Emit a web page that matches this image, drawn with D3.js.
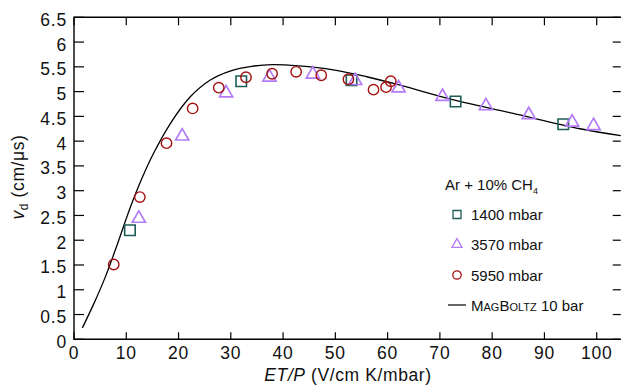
<!DOCTYPE html>
<html>
<head>
<meta charset="utf-8">
<script src="https://cdn.jsdelivr.net/npm/d3@7"></script>
<style>
  body { margin: 0; background: #fff; }
  svg { display: block; font-family: "Liberation Sans", Arial, sans-serif; }
</style>
</head>
<body>
<svg id="chart"></svg>
<script>
// ET/P (V/cm K/mbar) vs drift velocity (cm/us), Ar + 10% CH4
const p1400 = [[10.7, 2.2], [32.0, 5.21], [53.1, 5.23], [73.0, 4.80], [93.6, 4.34]];
const p3570 = [[12.4, 2.44], [20.7, 4.10], [29.1, 4.97], [37.4, 5.29], [45.7, 5.35], [53.8, 5.22],
  [62.1, 5.07], [70.5, 4.90], [78.8, 4.71], [87.0, 4.53], [95.3, 4.38], [99.4, 4.31]];
const p5950 = [[7.6, 1.51], [12.6, 2.87], [17.7, 3.96], [22.7, 4.66], [27.7, 5.08], [32.9, 5.29],
  [37.9, 5.36], [42.5, 5.40], [47.3, 5.33], [52.5, 5.25], [57.3, 5.04], [59.7, 5.09], [60.6, 5.21]];
const magboltz = [[1.6, 0.23], [3.8, 0.72], [6.0, 1.26], [8.3, 1.92], [10.8, 2.67], [13.0, 3.25],
  [15.2, 3.75], [18.4, 4.35], [22.2, 4.89], [26.0, 5.23], [30.0, 5.42], [34.0, 5.51], [38.0, 5.545],
  [43.0, 5.52], [49.6, 5.44], [56.0, 5.30], [61.7, 5.15], [71.3, 4.87], [84.0, 4.56], [96.8, 4.25], [104.6, 4.11]];
const xTicks = [0, 10, 20, 30, 40, 50, 60, 70, 80, 90, 100];
const yTicks = [0, 0.5, 1, 1.5, 2, 2.5, 3, 3.5, 4, 4.5, 5, 5.5, 6, 6.5];

const width = 621, height = 389;
const plotLeft = 74, plotTop = 17.3, plotBottom = 339.3;

const svg = d3.select('#chart')
  .attr('width', width)
  .attr('height', height);

const x = d3.scaleLinear().domain([0, 104.6]).range([plotLeft, plotLeft + 104.6 * 5.227]);
const y = d3.scaleLinear().domain([0, 6.5]).range([plotBottom, plotTop]);
const plotRight = x(104.6);

const c1400 = '#1d5c57', c3570 = '#b47cf7', c5950 = '#a3100f';

// frame
svg.append('path')
  .attr('d', `M${plotRight},${plotTop}H${plotLeft}V${plotBottom}H${plotRight}`)
  .attr('fill', 'none')
  .attr('stroke', '#000')
  .attr('stroke-width', 1.4);

// ticks (inward)
const tk = svg.append('g').attr('stroke', '#000').attr('stroke-width', 1.2);
xTicks.forEach(v => {
  tk.append('line').attr('x1', x(v)).attr('x2', x(v)).attr('y1', plotBottom).attr('y2', plotBottom - 7);
  tk.append('line').attr('x1', x(v)).attr('x2', x(v)).attr('y1', plotTop).attr('y2', plotTop + 8);
});
yTicks.forEach(v => {
  tk.append('line').attr('x1', plotLeft).attr('x2', plotLeft + 10).attr('y1', y(v)).attr('y2', y(v));
  tk.append('line').attr('x1', plotRight).attr('x2', plotRight - 8).attr('y1', y(v)).attr('y2', y(v));
});

// tick labels
svg.append('g').selectAll('text')
  .data(xTicks)
  .join('text')
  .attr('x', d => x(d))
  .attr('y', 359)
  .attr('text-anchor', 'middle')
  .attr('font-size', 17.5)
  .attr('letter-spacing', 0.8)
  .attr('fill', '#111')
  .text(d => d);

svg.append('g').selectAll('text')
  .data(yTicks)
  .join('text')
  .attr('x', 67)
  .attr('y', d => y(d) + 8.5)
  .attr('text-anchor', 'end')
  .attr('font-size', 17.5)
  .attr('letter-spacing', 0.8)
  .attr('fill', '#111')
  .text(d => d);

// axis titles
const xt = svg.append('text')
  .attr('x', 348)
  .attr('y', 381)
  .attr('text-anchor', 'middle')
  .attr('font-size', 17.5)
  .attr('letter-spacing', 0.6)
  .attr('fill', '#111');
xt.append('tspan').attr('font-style', 'italic').text('ET/P');
xt.append('tspan').text(' (V/cm K/mbar)');

const yt = svg.append('text')
  .attr('transform', 'translate(24,177) rotate(-90)')
  .attr('text-anchor', 'middle')
  .attr('font-size', 17.5)
  .attr('letter-spacing', 0.6)
  .attr('fill', '#111');
yt.append('tspan').attr('font-style', 'italic').text('v');
yt.append('tspan').attr('font-size', 12).attr('dy', 4).text('d');
yt.append('tspan').attr('dy', -4).text(' (cm/μs)');

// MagBoltz curve
const line = d3.line()
  .x(d => x(d[0]))
  .y(d => y(d[1]))
  .curve(d3.curveCatmullRom);

svg.append('path')
  .datum(magboltz)
  .attr('d', line)
  .attr('fill', 'none')
  .attr('stroke', '#000')
  .attr('stroke-width', 1.3);

// markers
const sq = d3.symbol().type(d3.symbolSquare).size(110);
const tri = d3.symbol().type(d3.symbolTriangle).size(75);

svg.append('g').selectAll('path')
  .data(p1400)
  .join('path')
  .attr('transform', d => `translate(${x(d[0])},${y(d[1])})`)
  .attr('d', sq)
  .attr('fill', 'none')
  .attr('stroke', c1400)
  .attr('stroke-width', 1.6);

svg.append('g').selectAll('path')
  .data(p3570)
  .join('path')
  .attr('transform', d => `translate(${x(d[0])},${y(d[1])})`)
  .attr('d', tri)
  .attr('fill', 'none')
  .attr('stroke', c3570)
  .attr('stroke-width', 1.7);

svg.append('g').selectAll('circle')
  .data(p5950)
  .join('circle')
  .attr('cx', d => x(d[0]))
  .attr('cy', d => y(d[1]))
  .attr('r', 5.2)
  .attr('fill', 'none')
  .attr('stroke', c5950)
  .attr('stroke-width', 1.4);

// legend
const lg = svg.append('g').attr('font-size', 15).attr('fill', '#111');
const lt = lg.append('text').attr('x', 445).attr('y', 190);
lt.append('tspan').text('Ar + 10% CH');
lt.append('tspan').attr('font-size', 9).attr('dy', 4).text('4');

const legendItems = [
  {label: '1400 mbar', color: c1400, shape: 'square', cy: 214.5},
  {label: '3570 mbar', color: c3570, shape: 'triangle', cy: 244.5},
  {label: '5950 mbar', color: c5950, shape: 'circle', cy: 275}
];
legendItems.forEach(it => {
  if (it.shape === 'circle') {
    lg.append('circle').attr('cx', 457).attr('cy', it.cy).attr('r', 4.2)
      .attr('fill', 'none').attr('stroke', it.color).attr('stroke-width', 1.3);
  } else {
    const s = it.shape === 'square' ? d3.symbol().type(d3.symbolSquare).size(64)
      : d3.symbol().type(d3.symbolTriangle).size(45);
    lg.append('path').attr('transform', `translate(457,${it.cy})`).attr('d', s)
      .attr('fill', 'none').attr('stroke', it.color).attr('stroke-width', 1.3);
  }
  lg.append('text').attr('x', 471).attr('y', it.cy + 5.5).text(it.label);
});
lg.append('line').attr('x1', 448).attr('x2', 466).attr('y1', 305).attr('y2', 305)
  .attr('stroke', '#000').attr('stroke-width', 1.2);
const mb = lg.append('text').attr('x', 471).attr('y', 310.5);
mb.append('tspan').text('M');
mb.append('tspan').attr('font-size', 11).text('AG');
mb.append('tspan').text('B');
mb.append('tspan').attr('font-size', 11).text('OLTZ');
mb.append('tspan').text(' 10 bar');
</script>
</body>
</html>
